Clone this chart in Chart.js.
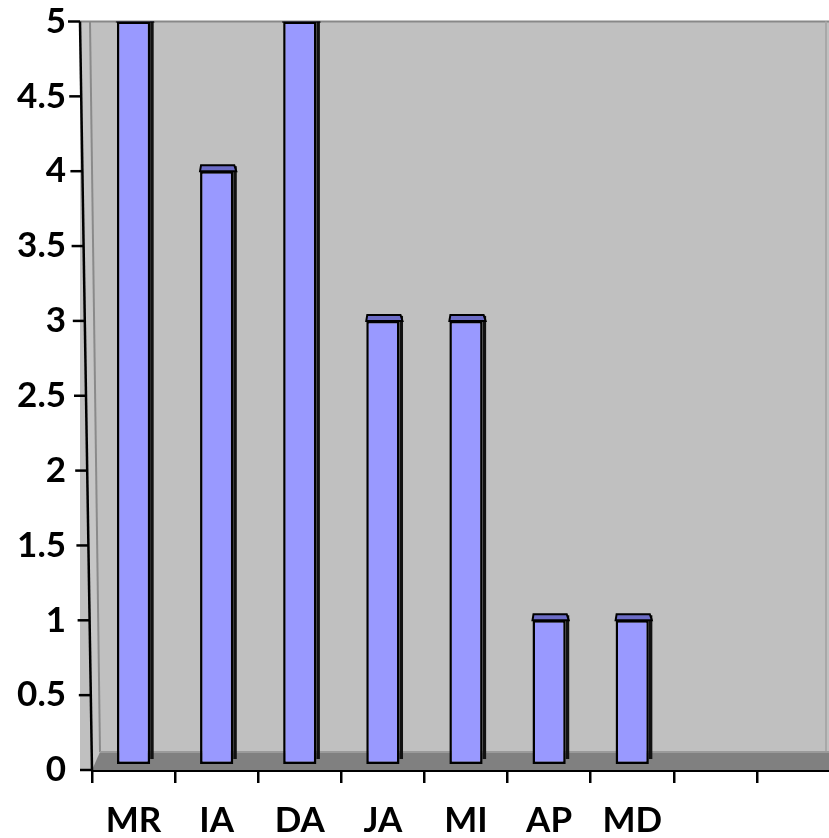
<!DOCTYPE html>
<html>
<head>
<meta charset="utf-8">
<script src="https://cdn.jsdelivr.net/npm/chart.js@4/dist/chart.umd.min.js"></script>
<style>
  html, body { margin: 0; padding: 0; background: #ffffff; overflow: hidden; }
  #wrap { width: 840px; height: 838px; }
</style>
</head>
<body>
<div id="wrap"><canvas id="chart" width="840" height="838"></canvas></div>
<script>
// Categories (the last two slots are empty) and their counts
const categories = ['MR', 'IA', 'DA', 'JA', 'MI', 'AP', 'MD', '', ''];
const counts = [5, 4, 5, 3, 3, 1, 1, null, null];
// Value axis range and step
const yMin = 0;
const yMax = 5;
const yStep = 0.5;

const X_FONT = { family: 'Lato', weight: 'bold', size: 35 };
const Y_FONT = { family: 'Lato', weight: 'bold', size: 35, lineHeight: 1.0 };

// Pseudo-3D decoration: walls, floor, bar tops/sides and the slanted value axis
const wallPlugin = {
  id: 'wall3d',
  beforeDatasetsDraw(chart) {
    const { ctx, chartArea: a } = chart;
    const floorDepth = 18;   // floor band height in px
    const slant = 12;        // left edge lean in px
    const backBottom = a.bottom - floorDepth;
    ctx.save();
    // back wall
    ctx.fillStyle = '#c0c0c0';
    ctx.fillRect(a.left - slant, a.top, a.right - a.left + slant, a.bottom - a.top);
    // left wall strip
    ctx.fillStyle = '#c6c6c6';
    ctx.beginPath();
    ctx.moveTo(a.left - slant, a.top);
    ctx.lineTo(a.left - 2, a.top);
    ctx.lineTo(a.left + 8, backBottom);
    ctx.lineTo(a.left, a.bottom);
    ctx.closePath();
    ctx.fill();
    // left wall inner edge
    ctx.strokeStyle = '#8a8a8a';
    ctx.lineWidth = 2;
    ctx.beginPath();
    ctx.moveTo(a.left - 2, a.top);
    ctx.lineTo(a.left + 8, backBottom);
    ctx.stroke();
    // top edge of the wall
    ctx.strokeStyle = '#888888';
    ctx.lineWidth = 2;
    ctx.beginPath();
    ctx.moveTo(a.left - slant, a.top);
    ctx.lineTo(a.right, a.top);
    ctx.stroke();
    // right wall edge
    ctx.strokeStyle = '#a8a8a8';
    ctx.lineWidth = 2;
    ctx.beginPath();
    ctx.moveTo(826, a.top);
    ctx.lineTo(826, backBottom);
    ctx.stroke();
    // floor
    ctx.fillStyle = '#808080';
    ctx.beginPath();
    ctx.moveTo(a.left, a.bottom);
    ctx.lineTo(a.left + 8, backBottom);
    ctx.lineTo(a.right, backBottom);
    ctx.lineTo(a.right, a.bottom);
    ctx.closePath();
    ctx.fill();
    ctx.strokeStyle = '#9a9a9a';
    ctx.lineWidth = 2;
    ctx.beginPath();
    ctx.moveTo(a.left + 8, backBottom);
    ctx.lineTo(a.right, backBottom);
    ctx.stroke();
    ctx.restore();
  },
  afterDatasetsDraw(chart) {
    const { ctx, chartArea: a } = chart;
    const meta = chart.getDatasetMeta(0);
    const values = chart.data.datasets[0].data;
    ctx.save();
    ctx.beginPath();
    ctx.rect(a.left, a.top, a.right - a.left, a.bottom - a.top);
    ctx.clip();
    meta.data.forEach((el, i) => {
      if (values[i] == null) return;
      const p = el.getProps(['x', 'y', 'width', 'base'], true);
      const l = p.x - p.width / 2;
      const r = p.x + p.width / 2;
      // right side face
      ctx.fillStyle = '#111111';
      ctx.fillRect(r, p.y - 5, 3.5, p.base - p.y);
      // top face
      ctx.fillStyle = '#6c6cc6';
      ctx.strokeStyle = '#000000';
      ctx.lineWidth = 2;
      ctx.beginPath();
      ctx.moveTo(l, p.y);
      ctx.lineTo(l + 1, p.y - 6);
      ctx.lineTo(r + 1, p.y - 6);
      ctx.lineTo(r + 3, p.y);
      ctx.closePath();
      ctx.fill();
      ctx.stroke();
    });
    ctx.restore();

    // slanted value axis with its tick marks
    const ys = chart.scales.y;
    const slant = 12;
    const axisX = (py) => a.left - slant * (a.bottom - py) / (a.bottom - a.top);
    ctx.save();
    ctx.strokeStyle = '#000000';
    ctx.lineWidth = 2.5;
    ctx.beginPath();
    ctx.moveTo(axisX(a.top), a.top);
    ctx.lineTo(a.left, a.bottom);
    ctx.stroke();
    ys.ticks.forEach((t) => {
      const py = ys.getPixelForValue(t.value);
      const ax = axisX(py);
      ctx.beginPath();
      ctx.moveTo(ax - 12, py);
      ctx.lineTo(ax, py);
      ctx.stroke();
    });
    ctx.restore();
  }
};

new Chart(document.getElementById('chart'), {
  type: 'bar',
  data: {
    labels: categories,
    datasets: [{
      data: counts,
      base: 0.04,
      backgroundColor: '#9999ff',
      borderColor: '#000000',
      borderWidth: 2.5,
      borderSkipped: false,
      barPercentage: 0.4,
      categoryPercentage: 1
    }]
  },
  options: {
    responsive: false,
    animation: false,
    devicePixelRatio: 1,
    layout: { padding: { top: 0, right: 0, bottom: 0, left: 0 } },
    plugins: { legend: { display: false }, tooltip: { enabled: false } },
    scales: {
      x: {
        offset: true,
        grid: {
          display: true,
          offset: true,
          drawOnChartArea: false,
          drawTicks: true,
          tickLength: 13,
          color: '#000000',
          lineWidth: 2.5
        },
        border: { display: true, color: '#000000', width: 3 },
        ticks: { color: '#000000', font: X_FONT, padding: 17, maxRotation: 0, autoSkip: false },
        afterFit(scale) { scale.height = 68; }
      },
      y: {
        min: yMin,
        max: yMax,
        grid: {
          display: true,
          drawOnChartArea: false,
          drawTicks: true,
          tickLength: 22,
          color: 'rgba(0,0,0,0)'
        },
        border: { display: false },
        ticks: {
          stepSize: yStep,
          color: '#000000',
          font: Y_FONT,
          padding: 4,
          callback: (v) => String(v)
        },
        afterFit(scale) { scale.width = 92; }
      }
    }
  },
  plugins: [wallPlugin]
});
</script>
</body>
</html>
